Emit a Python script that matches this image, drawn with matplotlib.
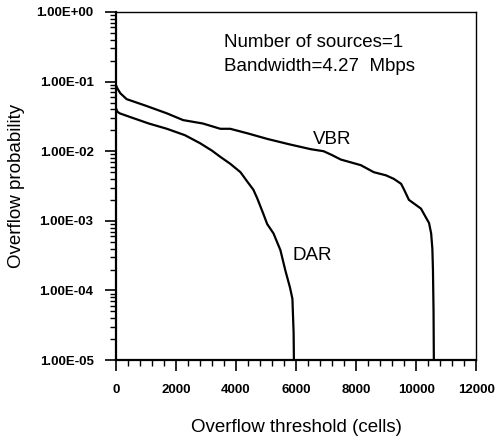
import numpy as np
import matplotlib
matplotlib.use("Agg")
import matplotlib.pyplot as plt
from matplotlib.ticker import FixedLocator, FixedFormatter, MultipleLocator, LogLocator

plt.rcParams['font.family'] = ['Liberation Sans', 'DejaVu Sans']

# overflow threshold (cells) and probabilities
vbr_x = [0, 50, 150, 360, 1000, 1700, 2240, 2900, 3480, 3810, 4400, 5050, 5800, 6490,
         6920, 7200, 7490, 8160, 8590, 9000, 9260, 9500, 9600, 9760, 10160, 10430,
         10500, 10540, 10560, 10580, 10590]
vbr_y = [0.09, 0.08, 0.068, 0.056, 0.045, 0.035, 0.028, 0.025, 0.021, 0.021, 0.018,
         0.015, 0.0125, 0.0107, 0.010, 0.0088, 0.0076, 0.0063, 0.0050, 0.0045,
         0.0040, 0.0034, 0.0028, 0.0020, 0.0015, 0.00093, 0.00066, 0.0004, 0.0002,
         0.00005, 0.00001]

dar_x = [0, 50, 130, 570, 1100, 1700, 2300, 2810, 3200, 3480, 3810, 4150, 4370, 4580,
         4710, 4900, 5040, 5250, 5480, 5650, 5800, 5880, 5920, 5930]
dar_y = [0.042, 0.037, 0.035, 0.030, 0.025, 0.021, 0.017, 0.013, 0.0102, 0.0083,
         0.0066, 0.0050, 0.0037, 0.0028, 0.0021, 0.0013, 0.00090, 0.00066, 0.00038,
         0.00019, 0.00011, 0.000076, 0.000025, 0.00001]

y_ticks = [1e-5, 1e-4, 1e-3, 1e-2, 1e-1, 1e0]
y_tick_labels = ["1.00E-05", "1.00E-04", "1.00E-03", "1.00E-02", "1.00E-01", "1.00E+00"]
x_ticks = [0, 2000, 4000, 6000, 8000, 10000, 12000]

fig = plt.figure(figsize=(4.95, 4.44), dpi=100)
ax = fig.add_axes([0.234, 0.189, 0.728, 0.784])

ax.plot(vbr_x, vbr_y, color='black', lw=1.6)
ax.plot(dar_x, dar_y, color='black', lw=1.6)

ax.set_yscale('log')
ax.set_xlim(0, 12000)
ax.set_ylim(1e-5, 1)

ax.yaxis.set_major_locator(FixedLocator(y_ticks))
ax.yaxis.set_major_formatter(FixedFormatter(y_tick_labels))
ax.yaxis.set_minor_locator(LogLocator(base=10, subs=np.arange(2, 10)))
ax.xaxis.set_major_locator(FixedLocator(x_ticks))
ax.xaxis.set_minor_locator(MultipleLocator(400))

ax.tick_params(which='major', direction='out', length=8, width=1.2, labelsize=9.5)
ax.tick_params(which='minor', direction='out', length=4, width=1.0)
ax.tick_params(axis='x', which='major', pad=9)
ax.tick_params(axis='y', which='major', pad=8)
for lab in ax.get_xticklabels() + ax.get_yticklabels():
    lab.set_fontweight('bold')

for s in ['left', 'bottom']:
    ax.spines[s].set_linewidth(1.6)
for s in ['top', 'right']:
    ax.spines[s].set_linewidth(1.0)

ax.set_xlabel("Overflow threshold (cells)", fontsize=13.5)
ax.set_ylabel("Overflow probability", fontsize=13.5)
ax.xaxis.set_label_coords(0.5, -0.17)
ax.yaxis.set_label_coords(-0.253, 0.5)

ax.text(0.30, 0.911, "Number of sources=1", transform=ax.transAxes,
        fontsize=13.5, va='center', ha='left')
ax.text(0.30, 0.842, "Bandwidth=4.27  Mbps", transform=ax.transAxes,
        fontsize=13.5, va='center', ha='left')
ax.text(7190, 0.0145, "VBR", fontsize=13.5, ha='center', va='center')
ax.text(6550, 3.2e-4, "DAR", fontsize=13.5, ha='center', va='center')

fig.savefig("out.png", dpi=100)
